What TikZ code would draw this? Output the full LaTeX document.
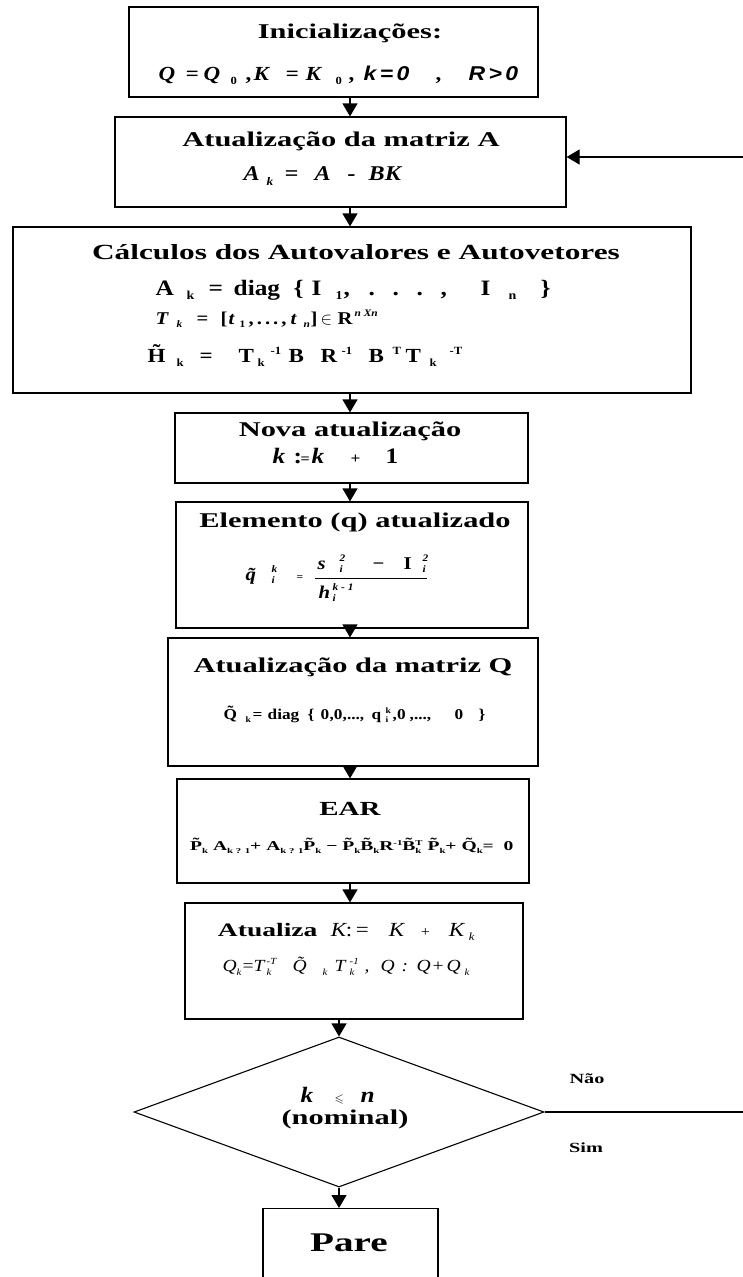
\documentclass[tikz,border=0pt]{standalone}
\usepackage{fontspec}
\usepackage{amssymb}
\usepackage{graphicx}
\usetikzlibrary{arrows.meta,shapes.geometric}
\setmainfont{Liberation Serif}[FakeStretch=1.45]
\newfontfamily\fm{Liberation Serif}[FakeStretch=1.15]
\newfontfamily\fms{Liberation Sans}[FakeStretch=1.15]

% font size in pt (one pt is one unit of the picture)
\newcommand\fsz[1]{\fontsize{#1}{#1}\selectfont}
% lowered / raised small indices
\newcommand\sbb[1]{\raisebox{-0.45ex}{\scalebox{0.55}{#1}}}
\newcommand\spp[1]{\raisebox{0.9ex}{\scalebox{0.55}{#1}}}
% stacked subscript and superscript
\newcommand\sbsp[2]{{\ooalign{\sbb{#1}\hfil\cr\spp{#2}\hfil\cr}}}
% letter with a tilde on top
\newcommand\tild[2][0.22em]{{\ooalign{#2\cr\hidewidth\raisebox{#1}{\char"02DC}\hidewidth\cr}}}
% piece of a formula set at a given horizontal position (pt from the left edge)
\newcommand\at[2]{\rlap{\hspace*{#1pt}#2}}

\tikzset{
  box/.style={draw, line width=1.2pt, rectangle, inner sep=0pt},
  flow/.style={-{Triangle[width=15pt,length=13pt]}, line width=1.2pt},
  txt/.style={inner sep=0pt, anchor=center},
  txtw/.style={inner sep=0pt, anchor=west},
  form/.style={inner sep=0pt, anchor=west},
  formb/.style={inner sep=0pt, anchor=base west},
  lbl/.style={inner sep=0pt, anchor=center, font=\fsz{14}\bfseries}
}

\begin{document}
\begin{tikzpicture}[x=1pt,y=-1pt]
\useasboundingbox (0,0) rectangle (743,1277);
\clip (0,0) rectangle (743,1277);
\fill[white] (0,0) rectangle (743,1277);

% process boxes
\node[box, minimum width=409pt, minimum height=90pt]  (b1) at (333.5,52) {};
\node[box, minimum width=451pt, minimum height=90pt]  (b2) at (340.5,162) {};
\node[box, minimum width=678pt, minimum height=166pt] (b3) at (352,310) {};
\node[box, minimum width=353pt, minimum height=70pt]  (b4) at (351.5,448) {};
\node[box, minimum width=352pt, minimum height=126pt] (b5) at (352,565) {};
\node[box, minimum width=370pt, minimum height=128pt] (b6) at (353,702) {};
\node[box, minimum width=352pt, minimum height=104pt] (b7) at (353,831) {};
\node[box, minimum width=338pt, minimum height=116pt] (b8) at (354,961) {};
\node[draw, diamond, line width=1.1pt, inner sep=0pt, aspect=2.73,
      minimum width=410pt, minimum height=150pt] (dia) at (339,1112) {};
\node[box, minimum width=175pt, minimum height=110pt, anchor=north] (pare) at (350.5,1208) {};

% initialisation
\node[txt] (t1a) at (350,33) {\fsz{21}\bfseries Inicializações:};
\node[form] (t1b) at (0,75) {\fm\fsz{20}\bfseries\itshape
  \at{158}{Q}\at{185}{=}\at{203}{Q}\at{230}{\sbb{\upshape 0}}\at{245}{\upshape ,}%
  \at{253}{K}\at{285}{=}\at{305}{K}\at{335}{\sbb{\upshape 0}}\at{348}{\upshape ,}%
  \at{363}{\fms k\,=\,0}\at{435}{\upshape ,}\at{468}{\fms R\,>\,0}};

% update of A
\node[txt] (t2a) at (341,141) {\fsz{21}\bfseries Atualização da matriz A};
\node[form] (t2b) at (0,176) {\fm\fsz{21}\bfseries\itshape
  \at{243}{A}\at{266}{\sbb{k}}\at{284}{=}\at{314}{A}\at{347}{-}\at{368}{BK}};

% eigenvalues and eigenvectors
\node[txt] (t3a) at (356,252) {\fsz{21.6}\bfseries Cálculos dos Autovalores e Autovetores};
\node[form] (t3b) at (0,290) {\fm\fsz{22}\bfseries
  \at{155}{A}\at{186}{\sbb{k}}\at{208}{=}\at{233}{diag}\at{293}{\{}\at{311}{I}\at{335}{\sbb{1}}%
  \at{343}{,}\at{368}{.}\at{392}{.}\at{416}{.}\at{440}{,}\at{480}{I}\at{508}{\sbb{n}}\at{540}{\}}};
\node[form] (t3c) at (0,319) {\fm\fsz{18}\bfseries\itshape
  \at{155}{T}\at{176}{\sbb{k}}\at{196}{\upshape =}\at{220}{\upshape [}\at{228}{t}\at{239}{\sbb{\upshape 1}}%
  \at{248}{\upshape ,\,.\,.\,.\,,}\at{290}{t}\at{303}{\sbb{n}}\at{310}{\upshape ]}\at{320}{$\in$}%
  \at{337}{\upshape R}\at{354}{\spp{n Xn}}};
\node[form] (t3d) at (0,357) {\fm\fsz{20}\bfseries
  \at{147}{\tild{H}}\at{176}{\sbb{k}}\at{199}{=}\at{238}{T}\at{257}{\sbb{k}}\at{270}{\spp{-1}}%
  \at{288}{B}\at{320}{R}\at{341}{\spp{-1}}\at{368}{B}\at{392}{\spp{T}}\at{405}{T}\at{429}{\sbb{k}}\at{449}{\spp{-T}}};

% counter
\node[txt] (t4a) at (350,431) {\fsz{21}\bfseries Nova atualização};
\node[form] (t4b) at (0,456) {\fm\fsz{22}\bfseries\itshape
  \at{272}{k}\at{293}{\upshape :}\at{300}{\fsz{14}\upshape =}\at{311}{k}\at{350}{\fsz{15}\upshape +}\at{385}{\upshape 1}};

% updated element
\node[txt] (t5a) at (355,522) {\fsz{21}\bfseries Elemento (q) atualizado};
\node[formb] (t5b) at (0,580) {\fm\fsz{18}\bfseries\itshape
  \at{245}{\tild[0em]{q}}\at{271}{\sbsp{i}{k}}\at{296}{\fsz{10}\upshape =}};
\node[formb] (t5n) at (0,569) {\fm\fsz{18}\bfseries\itshape
  \at{317}{s}\at{339}{\sbsp{i}{2}}\at{372}{\upshape −}\at{403}{\upshape I}\at{422}{\sbsp{i}{2}}};
\node[formb] (t5d) at (0,598) {\fm\fsz{18}\bfseries\itshape
  \at{318}{h}\at{332}{\sbsp{i}{k - 1}}};
\coordinate (fb1) at (315,578);
\coordinate (fb2) at (427,578);
\draw[line width=0.9pt] (fb1) -- (fb2);

% update of Q
\node[txt] (t6a) at (353,667) {\fsz{21}\bfseries Atualização da matriz Q};
\node[form] (t6b) at (0,716) {\fm\fsz{15}\bfseries
  \at{223}{\tild{Q}}\at{245}{\sbb{k}}\at{252}{=}\at{267}{diag}\at{307}{\{}\at{320}{0}\at{329}{,0}%
  \at{342}{,...,}\at{371}{q}\at{385}{\sbsp{i}{k}}\at{392}{,0}\at{409}{,...,}\at{454}{0}\at{478}{\}}};

% Riccati equation
\node[txt] (t7a) at (350,809) {\fsz{20}\bfseries EAR};
\node[txtw] (t7b) at (190,847) {\fsz{13.5}\bfseries \tild{P}\sbb{k} A\sbb{k ? 1}+ A\sbb{k ? 1}\tild{P}\sbb{k} − \tild{P}\sbb{k}\tild{B}\sbb{k}R\spp{-1}\tild{B}\sbsp{k}{T} \tild{P}\sbb{k}+ \tild{Q}\sbb{k}=\ \ 0};

% update of K and Q
\node[form] (t8a) at (0,932) {\fm\fsz{20}
  \at{212}{\rmfamily\fsz{19}\bfseries Atualiza}\at{325}{\itshape K}\at{340}{:}\at{350}{=}%
  \at{383}{\itshape K}\at{415}{\fsz{14}+}\at{443}{\itshape K}\at{463}{\itshape\sbb{k}}};
\node[form] (t8b) at (0,968) {\fm\fsz{17}\itshape
  \at{222}{Q}\at{236}{\sbb{k}}\at{242}{\upshape =}\at{253}{T}\at{266}{\sbsp{k}{-T}}\at{292}{\tild{Q}}%
  \at{322}{\sbb{k}}\at{334}{T}\at{349}{\sbsp{k}{-1}}\at{364}{,}\at{380}{Q}\at{401}{:}%
  \at{416}{Q}\at{432}{\upshape +}\at{446}{Q}\at{464}{\sbb{k}}};

% decision
\node[form] (t9a) at (0,1096) {\fm\fsz{22}\bfseries\itshape
  \at{300}{k}\at{334}{\fsz{12}$\leqslant$}\at{360}{n}};
\node[txt] (t9b) at (345,1119) {\fsz{21}\bfseries (nominal)};

\node[txt] (t10) at (349,1243) {\fsz{27}\bfseries Pare};

\node[lbl] (nao) at (587,1079) {Não};
\node[lbl] (sim) at (586,1148) {Sim};

% connectors
\coordinate (ax) at (350,0);
\draw[flow] (b1.south -| ax) -- (b2.north -| ax);
\draw[flow] (b2.south -| ax) -- (b3.north -| ax);
\draw[flow] (b3.south -| ax) -- (b4.north -| ax);
\draw[flow] (b4.south -| ax) -- (b5.north -| ax);
\draw[flow] (b5.south -| ax) -- (b6.north -| ax);
\draw[flow] (b6.south -| ax) -- (b7.north -| ax);
\draw[flow] (b7.south -| ax) -- (b8.north -| ax);
\draw[flow] (b8.south -| dia.north) -- (dia.north);
\draw[flow] (dia.south) -- (pare.north -| dia.south);

\coordinate (ret) at (743,157);
\draw[flow] (ret) -- (ret -| b2.east);
\coordinate (noend) at (743,1112);
\draw[line width=1.2pt] (dia.east) -- (dia.east -| noend);
\end{tikzpicture}
\end{document}
